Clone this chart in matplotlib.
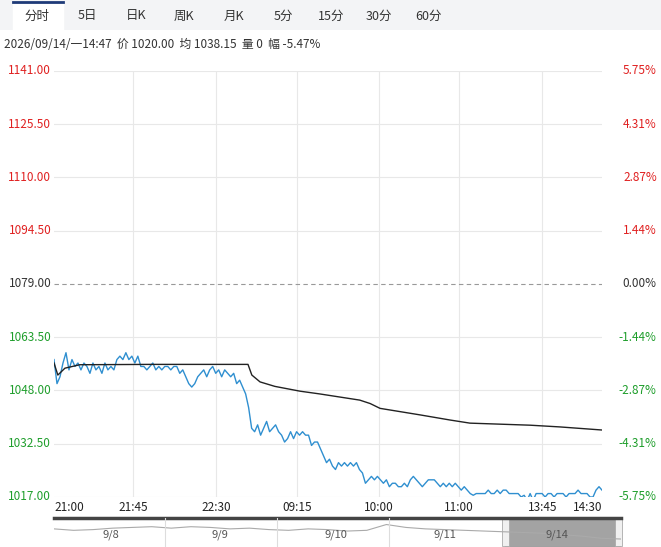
import numpy as np
import matplotlib.pyplot as plt
from matplotlib.patches import Rectangle

plt.rcParams['font.family'] = ['Noto Sans CJK SC', 'DejaVu Sans']

# price line (uniform time steps)
price = [1057, 1050, 1052, 1056, 1059, 1054, 1057, 1055, 1056, 1054, 1056, 1055, 1053, 1056, 1054,
         1055, 1053, 1056, 1054, 1055, 1054, 1057, 1058, 1057, 1059, 1057, 1058, 1056, 1058, 1055,
         1055, 1054, 1055, 1056, 1054, 1055, 1054, 1055, 1055, 1054, 1055, 1055, 1053, 1054, 1052,
         1050, 1049, 1050, 1052, 1053, 1054, 1052, 1054, 1055, 1053, 1054, 1052, 1054, 1053, 1052,
         1053, 1050, 1051, 1049, 1047, 1043, 1037, 1036, 1038, 1035, 1037, 1039, 1036, 1037, 1038,
         1036, 1035, 1033, 1034, 1036, 1034, 1036, 1035, 1036, 1035, 1035, 1032, 1033, 1033, 1031,
         1029, 1027, 1028, 1026, 1025, 1027, 1026, 1027, 1026, 1027, 1026, 1027, 1025, 1024, 1021,
         1022, 1023, 1022, 1023, 1022, 1021, 1022, 1020, 1021, 1021, 1020, 1020, 1021, 1020, 1022,
         1023, 1022, 1021, 1020, 1021, 1022, 1022, 1022, 1021, 1020, 1021, 1020, 1021, 1020, 1021,
         1020, 1019, 1020, 1019, 1018, 1017.5, 1018, 1018, 1018, 1018, 1019, 1018, 1018, 1019, 1018,
         1019, 1019, 1018, 1018, 1018, 1018, 1017, 1017.5, 1016, 1018, 1016, 1018, 1018, 1018, 1017,
         1018, 1018, 1017, 1018, 1018, 1018, 1017, 1018, 1018, 1018, 1019, 1018, 1018, 1018, 1017,
         1017, 1019, 1020, 1019]
# average line: (position 0..1, value)
avg_x = [0, 0.007, 0.02, 0.047, 0.175, 0.354, 0.361, 0.376, 0.403, 0.449, 0.485, 0.558, 0.577,
         0.595, 0.668, 0.723, 0.759, 0.869, 0.923, 1.0]
avg = [1056, 1052.5, 1054.5, 1055.5, 1055.6, 1055.6, 1052.5, 1050.5, 1049.2, 1047.8, 1047,
       1045.2, 1044.2, 1042.8, 1040.9, 1039.4, 1038.5, 1037.9, 1037.4, 1036.5]

time_labels = ['21:00', '21:45', '22:30', '09:15', '10:00', '11:00', '13:45', '14:30']
time_pos = [0, 0.144, 0.296, 0.444, 0.593, 0.739, 0.891, 1.0]
price_ticks = [1141.00, 1125.50, 1110.00, 1094.50, 1079.00, 1063.50, 1048.00, 1032.50, 1017.00]
pct_labels = ['5.75%', '4.31%', '2.87%', '1.44%', '0.00%', '-1.44%', '-2.87%', '-4.31%', '-5.75%']
tabs = ['分时', '5日', '日K', '周K', '月K', '5分', '15分', '30分', '60分']
tab_x = [37, 87, 136, 184, 234, 283, 331, 379, 428]
nav_dates = ['9/8', '9/9', '9/10', '9/11', '9/14']
nav_line = [1060, 1058, 1059, 1061, 1062, 1063, 1061, 1063, 1062, 1060, 1061, 1059, 1058, 1060,
            1059, 1057, 1058, 1066, 1062, 1060, 1059, 1058, 1057, 1056, 1055, 1054, 1052, 1050,
            1047, 1046]

W, H = 661, 547
fig = plt.figure(figsize=(W / 100, H / 100), dpi=100)

def fx(p): return p / W
def fy(p): return 1 - p / H

# tab bar
bar = fig.add_axes([0, fy(30), 1, 30 / H])
bar.set_xlim(0, W); bar.set_ylim(30, 0); bar.axis('off')
bar.add_patch(Rectangle((0, 0), W, 30, color='#f3f4f6'))
bar.add_patch(Rectangle((13, 1), 50, 29, color='white'))
bar.plot([13, 63], [1.5, 1.5], color='#1e3a78', lw=2)
for t, x in zip(tabs, tab_x):
    bar.text(x, 16, t, ha='center', va='center', fontsize=9, color='#333333')
fig.text(fx(4), fy(45), '2026/09/14/一14:47  价 1020.00  均 1038.15  量 0  幅 -5.47%',
         fontsize=8.5, color='#333333', va='center')

# main chart
ax = fig.add_axes([fx(54), fy(497), (602 - 54) / W, (497 - 71) / H])
ax.set_xlim(0, 1)
ax.set_ylim(1017, 1141)
ax.plot(np.linspace(0, 1, len(price)), price, color='#2f8fd0', lw=1)
ax.plot(avg_x, avg, color='#222222', lw=1)
for v in price_ticks:
    if v == 1079:
        ax.axhline(v, color='#999999', lw=0.8, ls=(0, (4, 3)))
    else:
        ax.axhline(v, color='#e8e8e8', lw=0.8, zorder=0)
for p in time_pos[1:-1]:
    ax.axvline(p, color='#e8e8e8', lw=0.8, zorder=0)
for s in ax.spines.values():
    s.set_visible(False)
ax.set_xticks([]); ax.set_yticks([])
for v, pl in zip(price_ticks, pct_labels):
    c = '#e02020' if v > 1079 else ('#333333' if v == 1079 else '#1f9e2c')
    ax.text(-0.005, v, f'{v:.2f}', transform=ax.get_yaxis_transform(), ha='right',
            va='center', fontsize=8.5, color=c)
    ax.text(1.1, v, pl, transform=ax.get_yaxis_transform(), ha='right',
            va='center', fontsize=8.5, color=c)
for i, (p, l) in enumerate(zip(time_pos, time_labels)):
    ha = 'left' if i == 0 else ('right' if i == len(time_pos) - 1 else 'center')
    ax.text(p, -0.01, l, transform=ax.get_xaxis_transform(), ha=ha, va='top',
            fontsize=8.5, color='#222222')

# navigator
nav = fig.add_axes([fx(54), 0, (621 - 54) / W, (547 - 518) / H])
nav.set_xlim(0, 1); nav.set_ylim(1035, 1075)
nav.axis('off')
nav.plot(np.linspace(0, 1, len(nav_line)), nav_line, color='#aaaaaa', lw=0.8)
nav.add_patch(Rectangle((0.796, 1035), 0.204, 40, color='#999999', alpha=0.9))
nav.plot([0, 1], [1075, 1075], color='#444444', lw=2.5, clip_on=False)
for sx in [0.196, 0.393, 0.591]:
    nav.axvline(sx, color='#dddddd', lw=0.8)
for d, x in zip(nav_dates, [0.10, 0.293, 0.497, 0.689, 0.887]):
    nav.text(x, 1052, d, ha='center', va='center', fontsize=8, color='#555555')
for hx in [0.796, 0.995]:
    nav.add_patch(Rectangle((hx - 0.006, 1036), 0.012, 38, facecolor='#f0f0f0',
                            edgecolor='#aaaaaa', lw=0.6, clip_on=False))

fig.savefig('out.png', dpi=100)
